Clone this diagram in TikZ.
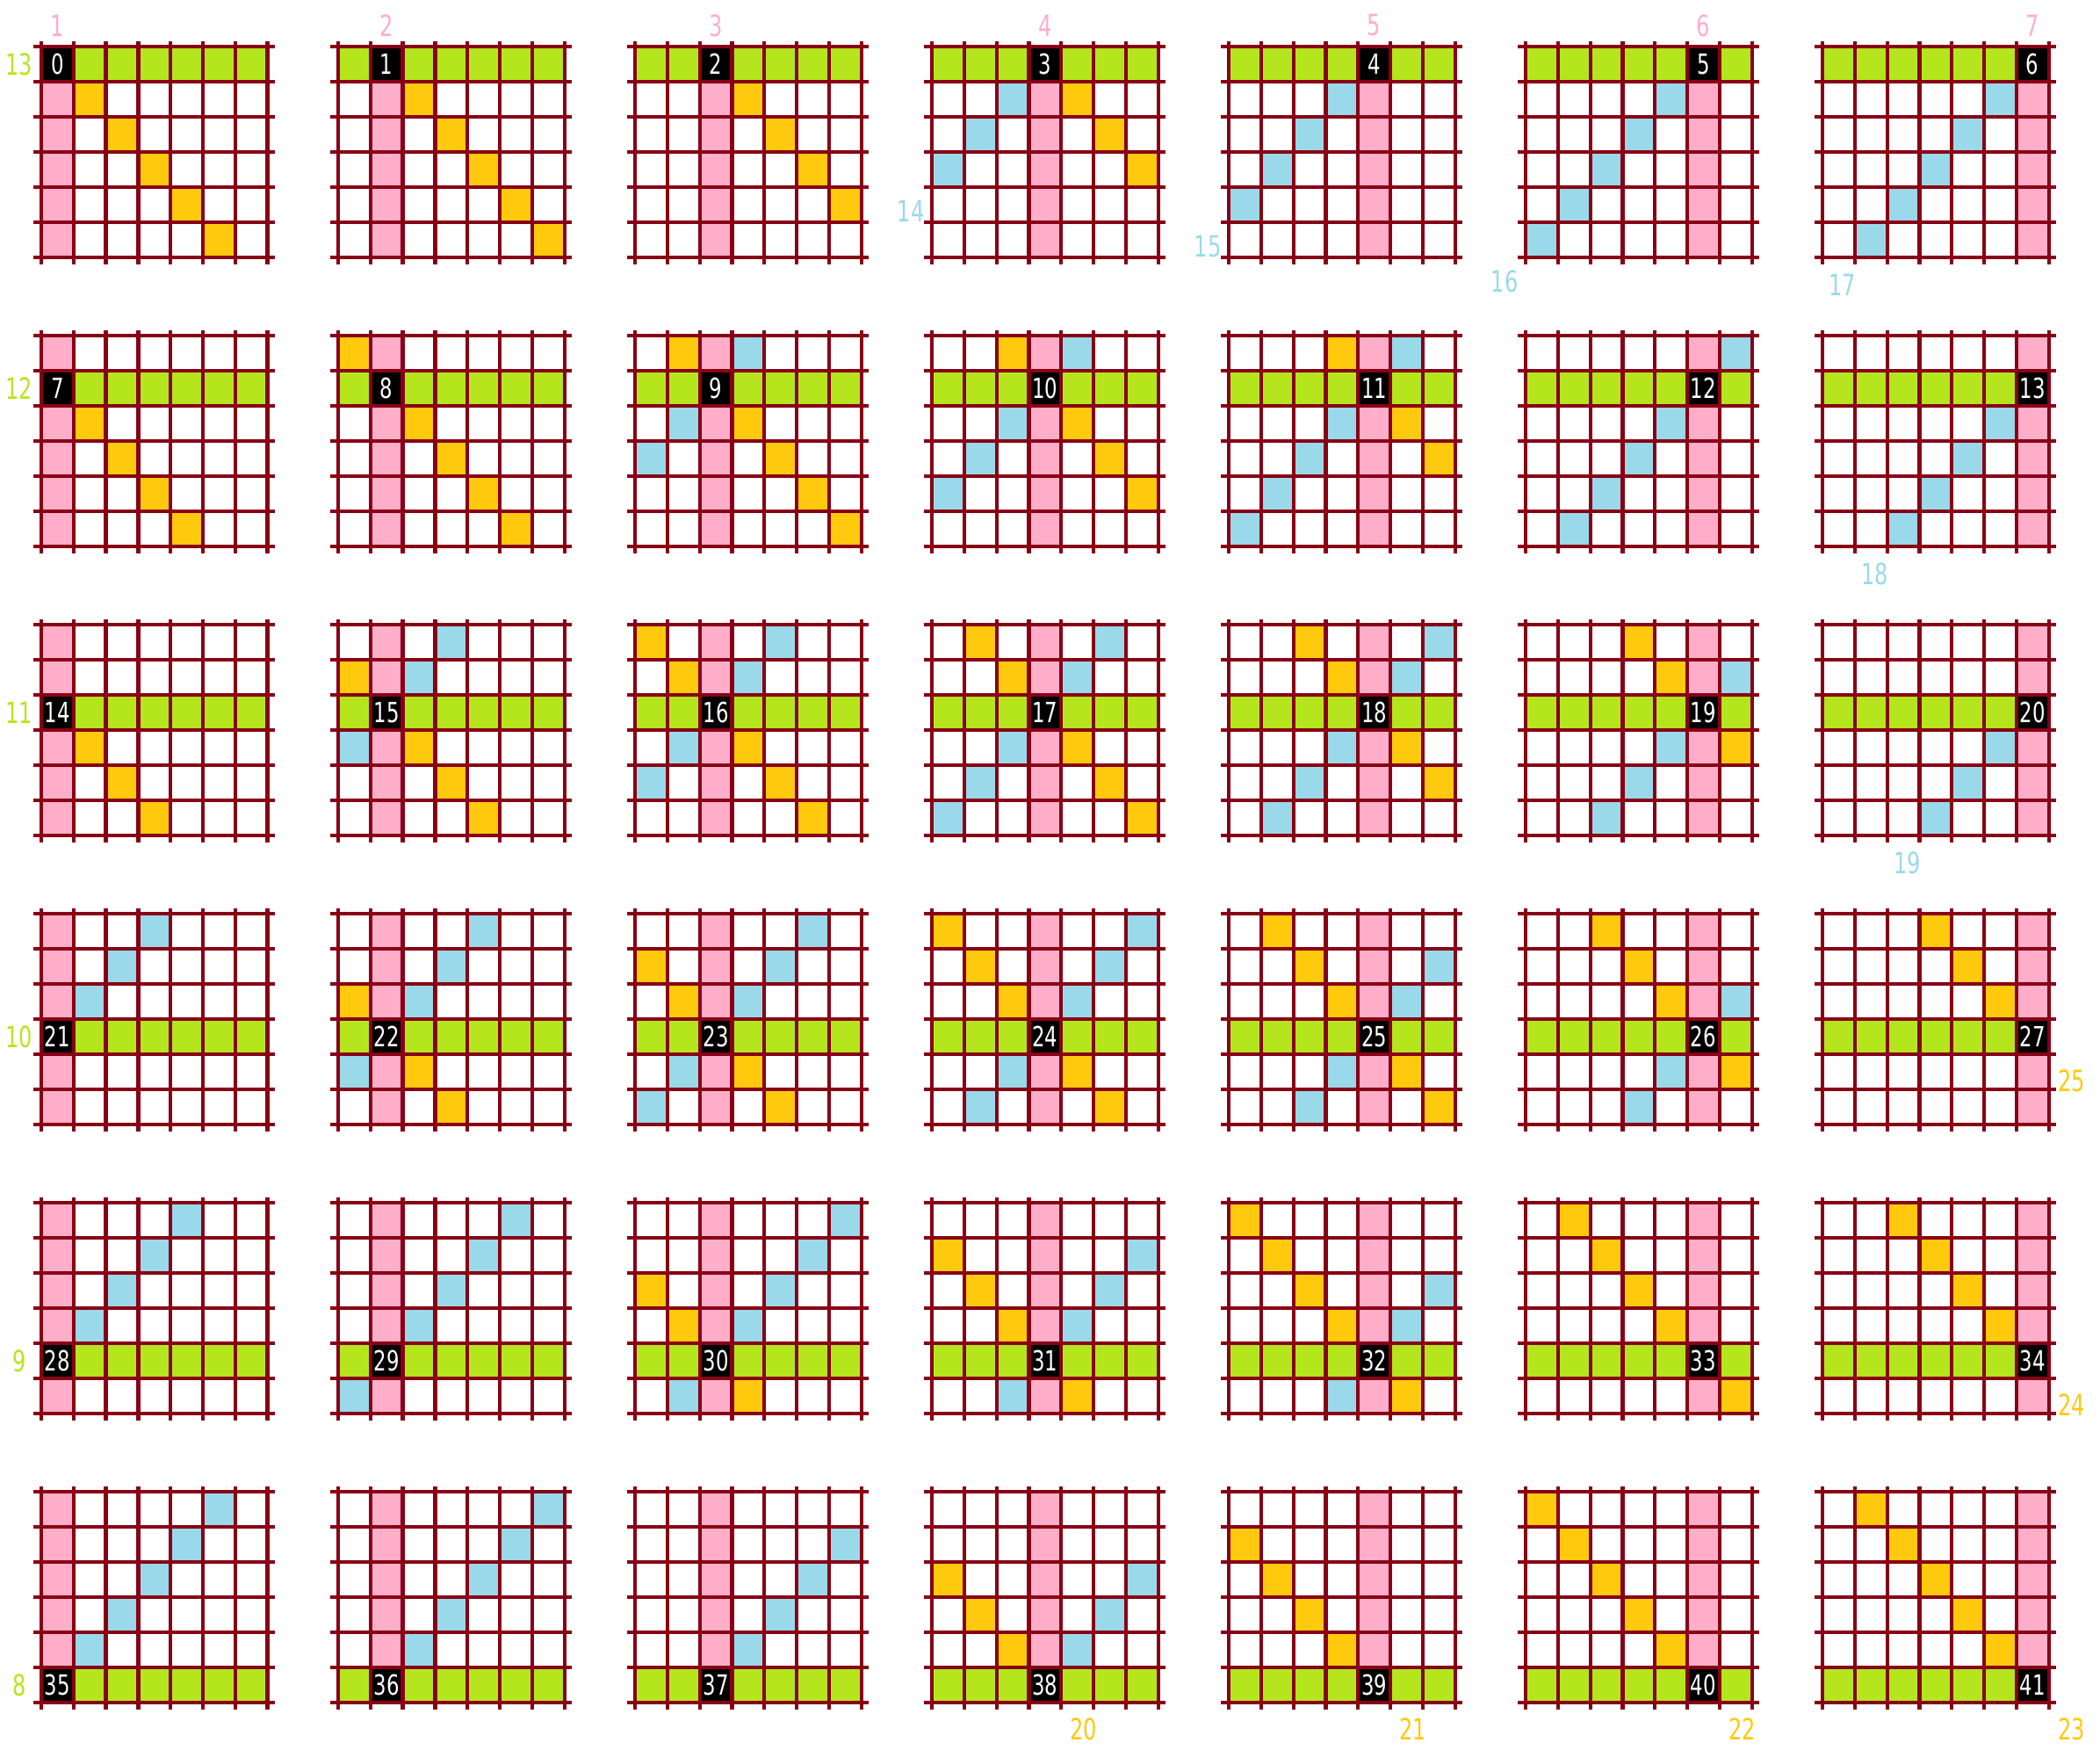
\documentclass[tikz,border=0pt]{standalone}
\usepackage{fontspec}
\usepackage{tikz}
\newfontfamily\boardfont[FakeStretch=0.72]{DejaVu Sans}
\definecolor{linered}{RGB}{136,0,21}
\definecolor{colpink}{RGB}{255,174,201}
\definecolor{rowlime}{RGB}{181,230,29}
\definecolor{diaggold}{RGB}{255,201,14}
\definecolor{antiblue}{RGB}{153,217,234}

\begin{document}
\begin{tikzpicture}[
    gridline/.style={draw=linered, line width=1.2pt},
    numcell/.style={fill=black, text=white, minimum width=0.36cm, minimum height=0.39cm,
                    inner sep=0pt, font=\boardfont\fontsize{9}{9}\selectfont},
    linelabel/.style={inner sep=0pt, font=\boardfont\fontsize{9.5}{9.5}\selectfont}
  ]
  \useasboundingbox (0,0) rectangle (23.91,-19.91);
  % one small board for every cell of the big board
  \foreach \i in {0,...,41} {
    \pgfmathtruncatemacro\R{int(\i/7)}
    \pgfmathtruncatemacro\C{mod(\i,7)}
    \pgfmathsetmacro\ox{0.47+3.38*\C}
    \pgfmathsetmacro\oy{-0.53-3.29*\R}
    \pgfmathtruncatemacro\sa{\R+\C}
    \pgfmathtruncatemacro\dg{\C-\R}
    \begin{scope}[shift={(\ox cm,\oy cm)}, x=0.368cm, y=-0.4cm]
      % column and row
      \fill[colpink] (\C,0) rectangle ++(1,6);
      \fill[rowlime] (0,\R) rectangle ++(7,1);
      % the two diagonals, only when they hold four cells or more
      \foreach \r in {0,...,5} {
        \pgfmathtruncatemacro\cd{\r+\dg}
        \pgfmathtruncatemacro\ca{\sa-\r}
        \ifnum\dg>-3 \ifnum\dg<4 \ifnum\cd>-1 \ifnum\cd<7
          \fill[diaggold] (\cd,\r) rectangle ++(1,1);
        \fi\fi\fi\fi
        \ifnum\sa>2 \ifnum\sa<9 \ifnum\ca>-1 \ifnum\ca<7
          \fill[antiblue] (\ca,\r) rectangle ++(1,1);
        \fi\fi\fi\fi
      }
      \node[numcell] (cell\i) at (\C+0.5,\R+0.5) {\i};
      \foreach \c in {0,...,7} \draw[gridline] (\c,-0.15) -- (\c,6.2);
      \foreach \r in {0,...,6} \draw[gridline] (-0.25,\r) -- (7.22,\r);
      % line numbers
      \ifnum\R=0
        \pgfmathtruncatemacro\lab{\C+1}
        \node[linelabel, text=colpink] (col\lab) at (\C+0.5,-0.6) {\lab};
      \fi
      \ifnum\C=0
        \pgfmathtruncatemacro\lab{13-\R}
        \node[linelabel, text=rowlime] (row\lab) at (-0.68,\R+0.5) {\lab};
      \fi
      \pgfmathtruncatemacro\bluelab{and(and(\sa>2,\sa<9),or(\R==0,\C==6))}
      \ifnum\bluelab=1
        \pgfmathtruncatemacro\lab{\sa+11}
        \pgfmathsetmacro\ax{\sa<6 ? -0.65 : \sa-5-0.38}
        \pgfmathsetmacro\ay{\sa<6 ? \sa+1.68 : 6.78}
        \node[linelabel, text=antiblue] (anti\lab) at (\ax,\ay) {\lab};
      \fi
      \pgfmathtruncatemacro\goldlab{and(and(\dg>-3,\dg<4),or(\R==5,\C==6))}
      \ifnum\goldlab=1
        \pgfmathtruncatemacro\lab{22+\dg}
        \node[linelabel, text=diaggold] (diag\lab) at (\C+1.7,\R+1.76) {\lab};
      \fi
    \end{scope}
  }
\end{tikzpicture}
\end{document}
